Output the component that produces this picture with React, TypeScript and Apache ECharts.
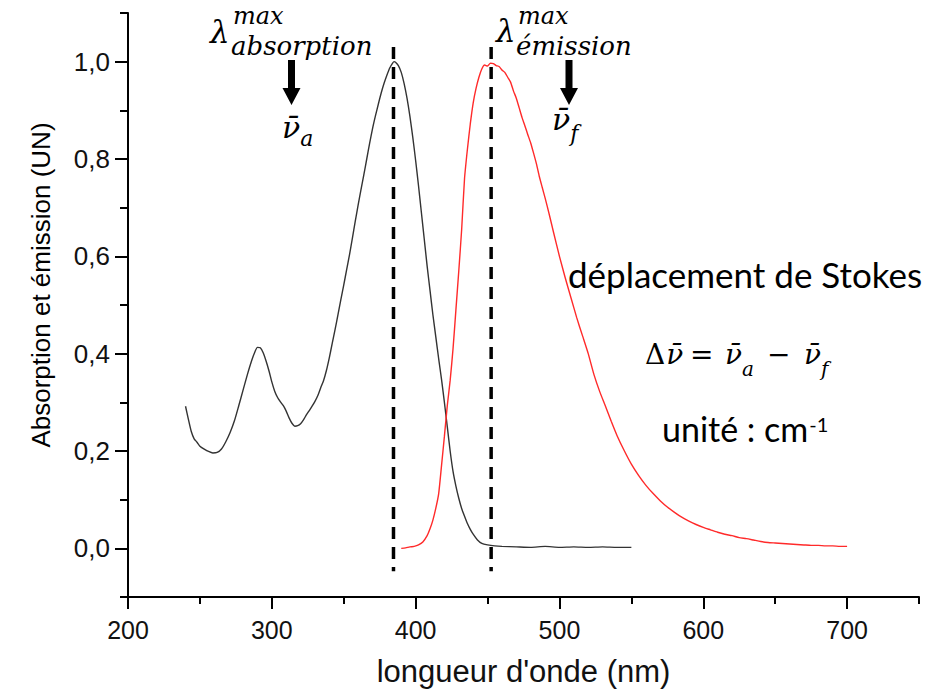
import React, { useEffect, useRef } from "react";
import * as echarts from "echarts";

// Absorption spectrum (black)
const absWave = [
  240, 242, 244, 246, 248, 250, 253, 256, 259, 262, 265, 268, 271, 274, 277, 280, 283, 286, 288, 290,
  292, 294, 296, 298, 300, 302, 304, 306, 308, 310, 312, 314, 316, 318, 320, 322, 324, 326, 328, 330,
  332, 334, 336, 338, 340, 342, 344, 346, 348, 350, 352, 354, 356, 358, 360, 362, 364, 366, 368, 370,
  372, 374, 376, 378, 380, 382, 384, 385, 386, 388, 390, 392, 394, 396, 398, 400, 402, 404, 406, 408,
  410, 412, 414, 416, 418, 420, 422, 424, 426, 428, 430, 432, 434, 436, 438, 440, 443, 446, 450, 455,
  460, 470, 480, 490, 500, 510, 520, 530, 540, 550,
];
const absValue = [
  0.292, 0.265, 0.24, 0.225, 0.218, 0.21, 0.204, 0.199, 0.196, 0.197, 0.204, 0.219, 0.238, 0.262, 0.293, 0.325, 0.357, 0.386, 0.402, 0.413,
  0.412, 0.402, 0.385, 0.365, 0.342, 0.323, 0.31, 0.301, 0.293, 0.282, 0.268, 0.257, 0.251, 0.252, 0.256, 0.264, 0.274, 0.283, 0.292, 0.302,
  0.314, 0.33, 0.345, 0.366, 0.392, 0.421, 0.45, 0.48, 0.511, 0.541, 0.572, 0.603, 0.637, 0.672, 0.705, 0.737, 0.768, 0.8, 0.832, 0.862,
  0.888, 0.912, 0.935, 0.955, 0.972, 0.987, 0.997, 1.0, 0.999, 0.992, 0.978, 0.955, 0.925, 0.888, 0.845, 0.797, 0.745, 0.69, 0.635, 0.58,
  0.53, 0.48, 0.435, 0.39, 0.347, 0.3, 0.25, 0.2, 0.158, 0.128, 0.103, 0.082, 0.066, 0.051, 0.039, 0.029, 0.017, 0.01, 0.007, 0.005,
  0.004, 0.003, 0.002, 0.004, 0.002, 0.003, 0.002, 0.003, 0.002, 0.002,
];

// Emission spectrum (red)
const emWave = [
  390, 393, 396, 399, 402, 405, 408, 410, 412, 414, 416, 418, 420, 422, 424, 426, 428, 430, 432, 434,
  436, 438, 440, 442, 444, 446, 448, 450, 452, 454, 456, 458, 460, 462, 464, 466, 468, 470, 472, 474,
  476, 478, 480, 482, 484, 486, 488, 490, 493, 496, 500, 504, 508, 512, 516, 520, 524, 528, 532, 536,
  540, 545, 550, 555, 560, 565, 570, 575, 580, 585, 590, 595, 600, 605, 610, 615, 620, 625, 630, 635,
  640, 645, 650, 655, 660, 665, 670, 675, 680, 685, 690, 695, 700,
];
const emValue = [
  0.0, 0.001, 0.003, 0.004, 0.007, 0.013, 0.026, 0.04, 0.058, 0.082, 0.112, 0.17, 0.23, 0.293, 0.345, 0.41, 0.49, 0.57, 0.655, 0.76,
  0.82, 0.872, 0.915, 0.945, 0.968, 0.985, 0.993, 0.991, 0.997, 0.996, 0.992, 0.99, 0.983, 0.978, 0.968, 0.958, 0.94, 0.925, 0.905, 0.885,
  0.868, 0.85, 0.833, 0.812, 0.79, 0.764, 0.742, 0.72, 0.685, 0.648, 0.6, 0.556, 0.515, 0.474, 0.437, 0.4, 0.357, 0.322, 0.292, 0.261,
  0.232, 0.201, 0.173, 0.15, 0.13, 0.113, 0.098, 0.085, 0.074, 0.064, 0.056, 0.049, 0.043, 0.038, 0.033, 0.029, 0.026, 0.022, 0.02, 0.017,
  0.014, 0.012, 0.011, 0.01, 0.009, 0.008, 0.007, 0.006, 0.006, 0.005, 0.005, 0.004, 0.004,
];

// λmax markers (dashed verticals)
const peakWave = [384.6, 452.5];
const dashSpan = [1.03, -0.047];

const yMajor = [0, 0.2, 0.4, 0.6, 0.8, 1.0];
const yMinor = [-0.1, 0.1, 0.3, 0.5, 0.7, 0.9, 1.1];
const xMajor = [200, 300, 400, 500, 600, 700];
const xMinor = [250, 350, 450, 550, 650, 750];

const SANS = "'Liberation Sans', Arial, sans-serif";
const MATH = "'DejaVu Serif', serif";
const CAL = "Lato, 'Open Sans', sans-serif";

function measure(text: string, font: string): number {
  const ctx = document.createElement("canvas").getContext("2d");
  if (!ctx) return text.length * 15;
  ctx.font = font;
  return ctx.measureText(text).width;
}

function txt(text: string, x: number, y: number, font: string, align = "left", rotation = 0) {
  return {
    type: "text",
    x,
    y,
    rotation,
    silent: true,
    style: {
      text,
      font,
      fill: "#000",
      align,
      textAlign: align,
      verticalAlign: "middle",
      textVerticalAlign: "middle",
    },
  };
}

function arrow(cx: number) {
  return {
    type: "polygon",
    silent: true,
    shape: {
      points: [
        [cx - 3.5, 60],
        [cx + 3.5, 60],
        [cx + 3.5, 88],
        [cx + 9, 88],
        [cx, 105],
        [cx - 9, 88],
        [cx - 3.5, 88],
      ],
    },
    style: { fill: "#000" },
  };
}

export default function App() {
  const ref = useRef<HTMLDivElement>(null);
  useEffect(() => {
    const chart = echarts.init(ref.current!, null, { renderer: "svg" });
    const axisCommon = {
      type: "value",
      splitLine: { show: false },
    };
    const fmt = (v: number) => v.toFixed(1).replace(".", ",");
    const unitFont = `34px ${CAL}`;
    const unitText = "unité : cm";
    const unitX = 662;
    const supX = unitX + measure(unitText, unitFont) + 1;
    const nuFont = `italic 30px ${MATH}`;
    const nuW = measure("ν", nuFont);
    const fNu = `italic 28px ${MATH}`;
    const fNuW = measure("ν", fNu);
    const fUp = `28px ${MATH}`;
    const deltaX = 645;
    const deltaW = measure("Δ", fUp);
    const option: any = {
      animation: false,
      backgroundColor: "#fff",
      textStyle: { fontFamily: SANS },
      grid: { left: 128, right: 16, top: 13, bottom: 93, containLabel: false },
      xAxis: [
        {
          ...axisCommon,
          min: 200,
          max: 750,
          interval: 50,
          position: "bottom",
          name: "longueur d'onde (nm)",
          nameLocation: "middle",
          nameGap: 59,
          nameTextStyle: { fontSize: 31, color: "#111", fontFamily: SANS },
          axisLine: { onZero: false, lineStyle: { color: "#000", width: 2 } },
          axisTick: { customValues: xMajor, length: 12, lineStyle: { color: "#000", width: 2 } },
          axisLabel: { customValues: xMajor, fontSize: 25, color: "#111", margin: 20, fontFamily: SANS },
        },
        {
          ...axisCommon,
          min: 200,
          max: 750,
          interval: 50,
          position: "bottom",
          axisLine: { show: false, onZero: false },
          axisTick: { customValues: xMinor, length: 7, lineStyle: { color: "#000", width: 2 } },
          axisLabel: { show: false },
        },
      ],
      yAxis: [
        {
          ...axisCommon,
          min: -0.1,
          max: 1.1,
          interval: 0.1,
          position: "left",
          axisLine: { onZero: false, lineStyle: { color: "#000", width: 2 } },
          axisTick: { customValues: yMajor, length: 13, lineStyle: { color: "#000", width: 2 } },
          axisLabel: { customValues: yMajor, fontSize: 26, color: "#111", margin: 18, formatter: fmt, fontFamily: SANS },
        },
        {
          ...axisCommon,
          min: -0.1,
          max: 1.1,
          interval: 0.1,
          position: "left",
          axisLine: { show: false, onZero: false },
          axisTick: { customValues: yMinor, length: 8, lineStyle: { color: "#000", width: 2 } },
          axisLabel: { show: false },
        },
      ],
      series: [
        {
          name: "absorption",
          type: "line",
          data: absWave.map((w, i) => [w, absValue[i]]),
          showSymbol: false,
          smooth: 0.2,
          lineStyle: { color: "#333", width: 1.4 },
          z: 3,
        },
        {
          name: "émission",
          type: "line",
          data: emWave.map((w, i) => [w, emValue[i]]),
          showSymbol: false,
          smooth: 0.2,
          lineStyle: { color: "#ff2a2a", width: 1.4 },
          z: 3,
        },
        ...peakWave.map((w) => ({
          type: "line",
          data: dashSpan.map((v) => [w, v]),
          showSymbol: false,
          lineStyle: { color: "#000", width: 3.5, type: [12, 8] },
          z: 4,
        })),
      ],
      graphic: [
        txt("Absorption et émission (UN)", 41, 285, `26px ${SANS}`, "center", Math.PI / 2),

        txt("λ", 210, 32, `italic 31px ${MATH}`),
        txt("max", 233, 16, `italic 24px ${MATH}`),
        txt("absorption", 231, 46, `italic 26px ${MATH}`),
        arrow(291.5),
        txt("ν\u0304", 282, 127, nuFont),
        txt("a", 282 + nuW, 138, `italic 22px ${MATH}`),

        txt("λ", 496, 31, `italic 31px ${MATH}`),
        txt("max", 518, 16, `italic 24px ${MATH}`),
        txt("émission", 516, 46, `italic 26px ${MATH}`),
        arrow(569),
        txt("ν\u0304", 552, 119, nuFont),
        txt("f", 552 + nuW, 133, `italic 22px ${MATH}`),

        txt("déplacement de Stokes", 568, 274, `35px ${CAL}`),

        txt("Δ", deltaX, 354, fUp),
        txt("ν\u0304", deltaX + deltaW + 1, 354, fNu),
        txt("=", 690, 354, fUp),
        txt("ν\u0304", 725, 354, fNu),
        txt("a", 725 + fNuW, 369, `italic 20px ${MATH}`),
        txt("−", 767, 354, fUp),
        txt("ν\u0304", 804, 354, fNu),
        txt("f", 804 + fNuW, 369, `italic 20px ${MATH}`),

        txt(unitText, unitX, 428, unitFont),
        txt("-1", supX, 424, `20px ${CAL}`),
      ],
    };
    chart.setOption(option);
    return () => chart.dispose();
  }, []);
  return (
    <div
      ref={ref}
      style={{ position: "absolute", left: 0, top: 0, width: 935, height: 692 }}
    />
  );
}
